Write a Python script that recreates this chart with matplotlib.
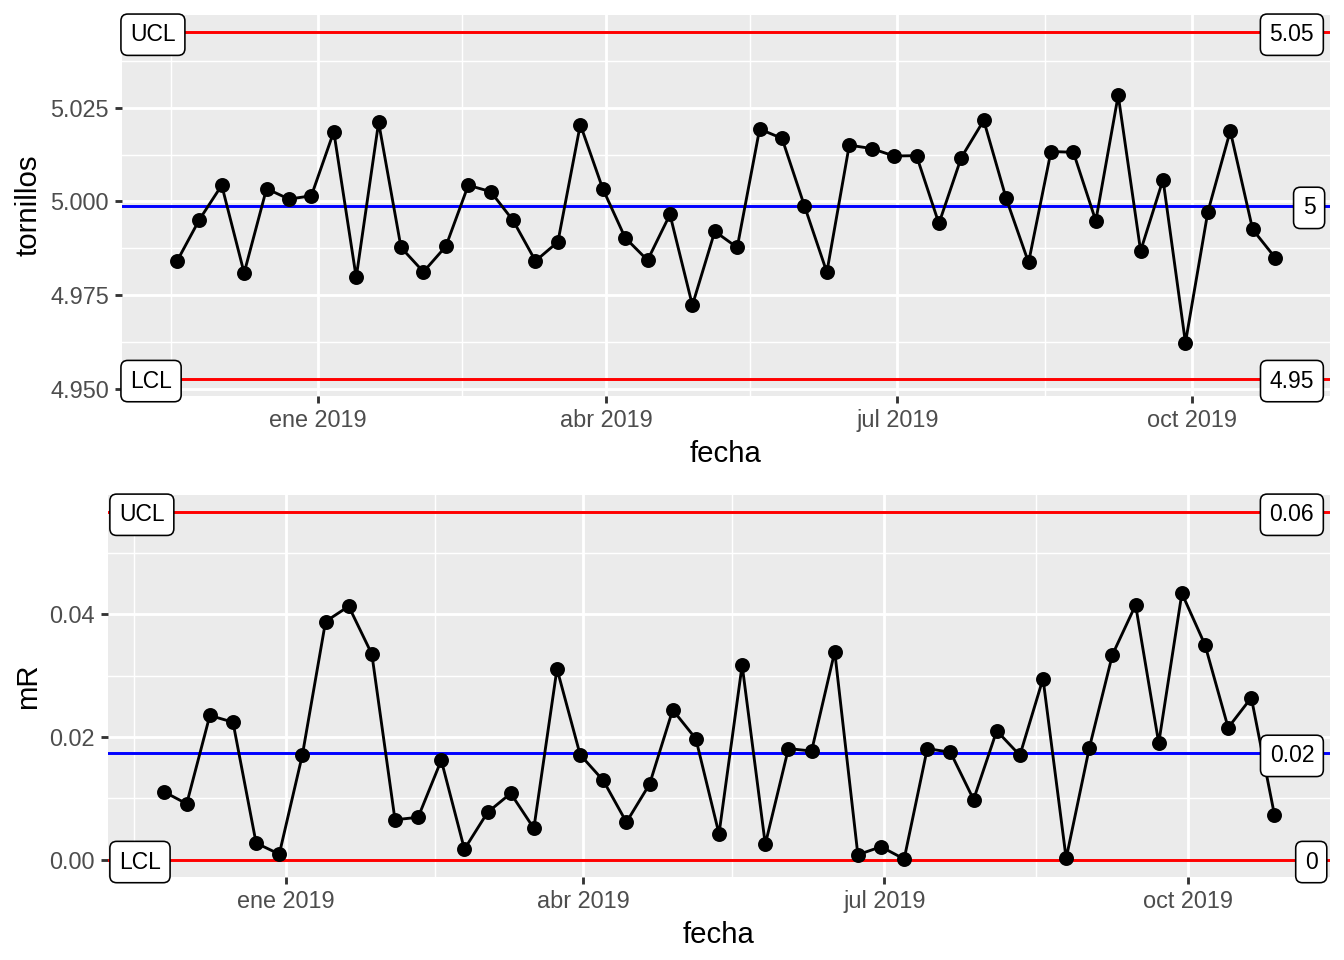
import matplotlib
matplotlib.use('Agg')
import matplotlib.pyplot as plt
import matplotlib.dates as mdates
import matplotlib.transforms as mtransforms
import numpy as np
import pandas as pd

plt.rcParams['font.family'] = ['Liberation Sans', 'DejaVu Sans']

# ---------------- data ----------------
fechas = ['2018-11-18', '2018-11-25', '2018-12-02', '2018-12-09', '2018-12-16',
          '2018-12-23', '2018-12-30', '2019-01-06', '2019-01-13', '2019-01-20',
          '2019-01-27', '2019-02-03', '2019-02-10', '2019-02-17', '2019-02-24',
          '2019-03-03', '2019-03-10', '2019-03-17', '2019-03-24', '2019-03-31',
          '2019-04-07', '2019-04-14', '2019-04-21', '2019-04-28', '2019-05-05',
          '2019-05-12', '2019-05-19', '2019-05-26', '2019-06-02', '2019-06-09',
          '2019-06-16', '2019-06-23', '2019-06-30', '2019-07-07', '2019-07-14',
          '2019-07-21', '2019-07-28', '2019-08-04', '2019-08-11', '2019-08-18',
          '2019-08-25', '2019-09-01', '2019-09-08', '2019-09-15', '2019-09-22',
          '2019-09-29', '2019-10-06', '2019-10-13', '2019-10-20', '2019-10-27']

tornillos = [4.9840, 4.9951, 5.0043, 4.9809, 5.0034, 5.0006, 5.0015, 5.0186, 4.9797, 5.0211,
             4.9877, 4.9812, 4.9880, 5.0043, 5.0026, 4.9949, 4.9841, 4.9892, 5.0205, 5.0034,
             4.9903, 4.9843, 4.9965, 4.9723, 4.9920, 4.9877, 5.0193, 5.0168, 4.9988, 4.9811,
             5.0150, 5.0141, 5.0121, 5.0122, 4.9941, 5.0117, 5.0216, 5.0008, 4.9837, 5.0133,
             5.0131, 4.9948, 5.0283, 4.9868, 5.0058, 4.9623, 4.9972, 5.0188, 4.9925, 4.9850]

mR = [0.0111, 0.0091, 0.0235, 0.0224, 0.0027, 0.0009, 0.0171, 0.0388, 0.0413, 0.0335,
      0.0065, 0.0069, 0.0162, 0.0017, 0.0077, 0.0108, 0.0051, 0.0311, 0.0171, 0.0129,
      0.0061, 0.0123, 0.0244, 0.0197, 0.0042, 0.0317, 0.0025, 0.0181, 0.0177, 0.0339,
      0.0008, 0.0021, 0.0001, 0.0181, 0.0175, 0.0098, 0.0210, 0.0170, 0.0295, 0.0002,
      0.0182, 0.0334, 0.0415, 0.0190, 0.0434, 0.0350, 0.0215, 0.0264, 0.0073]

# control limits (center, UCL, LCL)
x_center, x_ucl, x_lcl = 4.9989, 5.0451, 4.9527
mr_center, mr_ucl, mr_lcl = 0.0173, 0.0566, 0.0

left_labels = ['UCL', 'LCL']
right_labels_top = ['5.05', '5', '4.95']
right_labels_bot = ['0.06', '0.02', '0']

x_breaks = ['2019-01-01', '2019-04-01', '2019-07-01', '2019-10-01']
x_break_labels = ['ene 2019', 'abr 2019', 'jul 2019', 'oct 2019']
x_minor_breaks = ['2018-11-16', '2019-02-15', '2019-05-16', '2019-08-16']

y_breaks_top = [4.950, 4.975, 5.000, 5.025]
y_labels_top = ['4.950', '4.975', '5.000', '5.025']
y_breaks_bot = [0.00, 0.02, 0.04]
y_labels_bot = ['0.00', '0.02', '0.04']

# ---------------- figure ----------------
fig = plt.figure(figsize=(7, 5), dpi=192)
ax1 = fig.add_axes([122 / 1344, 1 - 396 / 960, (1330 - 122) / 1344, (396 - 15) / 960])
ax2 = fig.add_axes([108 / 1344, 1 - 877 / 960, (1330 - 108) / 1344, (877 - 495) / 960])

dates_all = pd.to_datetime(fechas)
dates_mr = dates_all[1:]

GRID_BG = '#EBEBEB'
TICK_COL = '#4D4D4D'
LBL_FS = 8.6
PAD = 0.4


def style(ax, dates, yvals, ybreaks, ylabels, ylabel, yextra):
    ax.set_facecolor(GRID_BG)
    for s in ax.spines.values():
        s.set_visible(False)
    dn = mdates.date2num(dates)
    r = dn.max() - dn.min()
    ax.set_xlim(dn.min() - 0.05 * r, dn.max() + 0.05 * r)
    lo = min(min(yvals), min(yextra))
    hi = max(max(yvals), max(yextra))
    yr = hi - lo
    ax.set_ylim(lo - 0.05 * yr, hi + 0.05 * yr)
    xb = mdates.date2num(pd.to_datetime(x_breaks))
    ax.set_xticks(xb)
    ax.set_xticklabels(x_break_labels)
    ax.set_xticks(mdates.date2num(pd.to_datetime(x_minor_breaks)), minor=True)
    ax.set_yticks(ybreaks)
    ax.set_yticklabels(ylabels)
    yminor = [(ybreaks[i] + ybreaks[i + 1]) / 2 for i in range(len(ybreaks) - 1)]
    yminor.append(ybreaks[-1] + (ybreaks[1] - ybreaks[0]) / 2)
    ax.set_yticks(yminor, minor=True)
    ax.grid(True, which='major', color='white', linewidth=1.07)
    ax.grid(True, which='minor', color='white', linewidth=0.53)
    ax.set_axisbelow(True)
    ax.tick_params(which='major', length=2.75, width=1.07, color='#333333',
                   labelsize=8.8, labelcolor=TICK_COL, pad=2.2)
    ax.tick_params(which='minor', length=0)
    ax.set_xlabel('fecha', fontsize=11, labelpad=2.75)
    ax.set_ylabel(ylabel, fontsize=11, labelpad=2.75)


def add_label(ax, y, text, side, xoff_pt):
    trans = mtransforms.blended_transform_factory(ax.transAxes, ax.transData)
    pad_pt = PAD * LBL_FS
    if side == 'left':
        xy, off, ha = (0, y), (pad_pt + xoff_pt, -0.9), 'left'
    else:
        xy, off, ha = (1, y), (-(pad_pt + xoff_pt), -0.9), 'right'
    ax.annotate(text, xy=xy, xycoords=trans, xytext=off, textcoords='offset points',
                ha=ha, va='center', fontsize=LBL_FS, color='black', zorder=6,
                annotation_clip=False,
                bbox=dict(boxstyle=f'round,pad={PAD},rounding_size=0.3',
                          fc='white', ec='black', lw=0.6))


# ---- top: individuals ----
style(ax1, dates_all, tornillos, y_breaks_top, y_labels_top, 'tornillos', [x_ucl, x_lcl])
ax1.axhline(x_ucl, color='red', lw=1.1, zorder=2)
ax1.axhline(x_lcl, color='red', lw=1.1, zorder=2)
ax1.axhline(x_center, color='blue', lw=1.1, zorder=2)
ax1.plot(dates_all, tornillos, color='black', lw=1.07, zorder=3)
ax1.plot(dates_all, tornillos, 'o', color='black', ms=4.6, zorder=4)
add_label(ax1, x_ucl, left_labels[0], 'left', -0.4)
add_label(ax1, x_lcl, left_labels[1], 'left', -0.4)
add_label(ax1, x_ucl, right_labels_top[0], 'right', 2.5)
add_label(ax1, x_center, right_labels_top[1], 'right', 2.0)
add_label(ax1, x_lcl, right_labels_top[2], 'right', 2.5)

# ---- bottom: moving range ----
style(ax2, dates_mr, mR, y_breaks_bot, y_labels_bot, 'mR', [mr_ucl, mr_lcl])
ax2.axhline(mr_ucl, color='red', lw=1.1, zorder=2)
ax2.axhline(mr_lcl, color='red', lw=1.1, zorder=2)
ax2.axhline(mr_center, color='blue', lw=1.1, zorder=2)
ax2.plot(dates_mr, mR, color='black', lw=1.07, zorder=3)
ax2.plot(dates_mr, mR, 'o', color='black', ms=4.6, zorder=4)
add_label(ax2, mr_ucl, left_labels[0], 'left', 0.7)
add_label(ax2, mr_lcl, left_labels[1], 'left', 0.7)
add_label(ax2, mr_ucl, right_labels_bot[0], 'right', 2.5)
add_label(ax2, mr_center, right_labels_bot[1], 'right', 2.5)
add_label(ax2, mr_lcl, right_labels_bot[2], 'right', 1.2)

fig.savefig('out.png', dpi=192)
